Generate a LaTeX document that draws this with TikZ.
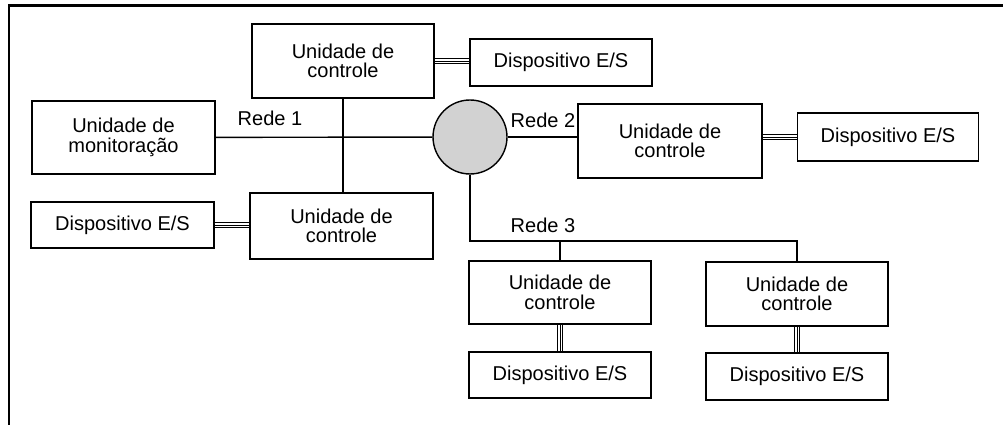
\documentclass[tikz,border=0pt]{standalone}
\usepackage{fontspec}
\setmainfont{Liberation Sans}
\usetikzlibrary{calc}

\begin{document}
\begin{tikzpicture}[
  x=0.02cm, y=-0.02cm, line width=0.8pt,
  box/.style={draw, inner sep=0pt, align=center,
    font=\fontsize{11.4pt}{11pt}\selectfont},
  wh/.style 2 args={minimum width=#1*0.02cm, minimum height=#2*0.02cm},
  hub/.style={circle, draw, fill=gray!35, inner sep=0pt, minimum size=1.48cm},
  rede/.style={font=\fontsize{11.4pt}{11pt}\selectfont},
  bus/.style={line width=0.5pt, double, double distance=2.6pt},
  busmid/.style={line width=0.5pt},
]
  \useasboundingbox (0,0) rectangle (1003,425);
  \draw[line width=1.7pt] (1003,5.5) -- (9,5.5) -- (9,425);

  \node[box, wh={182}{74}] (ucA) at (343,61)    {Unidade de\\controle};
  \node[box, wh={182}{47}] (esA) at (561,62.5)  {Dispositivo E/S};
  \node[box, wh={183}{73}] (mon) at (123.5,137.5) {Unidade de\\monitoração};
  \node[box, wh={183}{66}] (ucB) at (341.5,226) {Unidade de\\controle};
  \node[box, wh={183}{46}] (esB) at (122.5,225) {Dispositivo E/S};
  \node[hub] (hub) at (470,137) {};
  \node[box, wh={184}{74}] (ucC) at (670,141)   {Unidade de\\controle};
  \node[box, wh={181}{48}] (esC) at (888,137)   {Dispositivo E/S};
  \node[box, wh={182}{63}] (ucD) at (560,292.5) {Unidade de\\controle};
  \node[box, wh={182}{64}] (ucE) at (797,294)   {Unidade de\\controle};
  \node[box, wh={182}{46}] (esD) at (560,375)   {Dispositivo E/S};
  \node[box, wh={182}{47}] (esE) at (797,376.5) {Dispositivo E/S};

  \node[rede] (r1) at (270,118) {Rede 1};
  \node[rede] (r2) at (543,120) {Rede 2};
  \node[rede] (r3) at (543,225) {Rede 3};

  \coordinate (bus3) at (470,241);

  \draw (mon) -- (hub);
  \draw (ucA) -- (ucA |- ucB.north);
  \draw (hub) -- (hub -| ucC.west);
  \draw (hub) -- (bus3) -| (ucE);
  \draw (ucD) -- (ucD |- bus3);

  \foreach \a/\b in {ucA/esA, esB/ucB} {
    \draw[bus] (\a.east) -- (\a.east -| \b.west);
    \draw[busmid] (\a.east) -- (\a.east -| \b.west);
  }
  \draw[bus] (esC.west -| ucC.east) -- (esC.west);
  \draw[busmid] (esC.west -| ucC.east) -- (esC.west);
  \foreach \a/\b in {ucD/esD, ucE/esE} {
    \draw[bus] (\a.south) -- (\a.south |- \b.north);
    \draw[busmid] (\a.south) -- (\a.south |- \b.north);
  }
\end{tikzpicture}
\end{document}
